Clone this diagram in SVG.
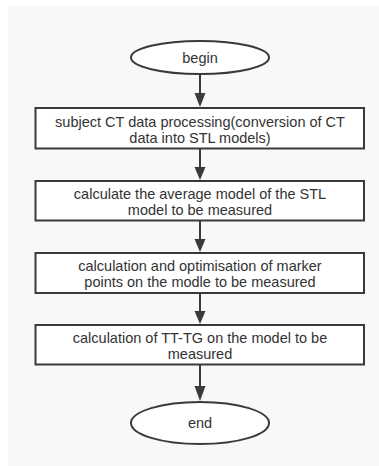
<svg xmlns="http://www.w3.org/2000/svg" width="379" height="466" viewBox="0 0 379 466">
<defs>
<style>
.box{fill:#ffffff;stroke:#3a3a3a;stroke-width:2}
.t{font-family:"Liberation Sans","Noto Sans",Arial,sans-serif;font-size:14.5px;fill:#333333;text-anchor:middle}
.ln{stroke:#3a3a3a;stroke-width:2;fill:none}
.ah{fill:#3a3a3a}
</style>
</defs>
<rect x="0" y="0" width="379" height="466" fill="#ffffff"/>
<rect x="8" y="6" width="371" height="460" fill="#f8f8f8"/>
<g id="connectors">
<line class="ln" x1="200" y1="74" x2="200" y2="94"/>
<polygon class="ah" points="194.5,93 205.5,93 200,107"/>
<line class="ln" x1="200" y1="149" x2="200" y2="168"/>
<polygon class="ah" points="194.5,167 205.5,167 200,180"/>
<line class="ln" x1="200" y1="221" x2="200" y2="240"/>
<polygon class="ah" points="194.5,239 205.5,239 200,252"/>
<line class="ln" x1="200" y1="294" x2="200" y2="312"/>
<polygon class="ah" points="194.5,311 205.5,311 200,324"/>
<line class="ln" x1="200" y1="365" x2="200" y2="387"/>
<polygon class="ah" points="194.5,386 205.5,386 200,401"/>
</g>
<g id="begin">
<ellipse class="box" cx="200" cy="57.5" rx="69" ry="16.5"/>
<text class="t" x="200" y="62.5">begin</text>
</g>
<g id="step1">
<rect class="box" x="35.5" y="108" width="328.5" height="40.5"/>
<text class="t" x="200" y="126.5">subject CT data processing(conversion of CT</text>
<text class="t" x="200" y="143">data into STL models)</text>
</g>
<g id="step2">
<rect class="box" x="35.5" y="181" width="328.5" height="39.5"/>
<text class="t" x="200" y="198.5">calculate the average model of the STL</text>
<text class="t" x="200" y="215">model to be measured</text>
</g>
<g id="step3">
<rect class="box" x="35.5" y="253" width="328.5" height="40"/>
<text class="t" x="200" y="270.5">calculation and optimisation of marker</text>
<text class="t" x="200" y="287"> points on the modle to be measured</text>
</g>
<g id="step4">
<rect class="box" x="35.5" y="325" width="328.5" height="39.5"/>
<text class="t" x="200" y="342.5">calculation of TT-TG on the model to be</text>
<text class="t" x="200" y="359">measured</text>
</g>
<g id="end">
<ellipse class="box" cx="200" cy="423" rx="69" ry="21"/>
<text class="t" x="200" y="428">end</text>
</g>
</svg>
